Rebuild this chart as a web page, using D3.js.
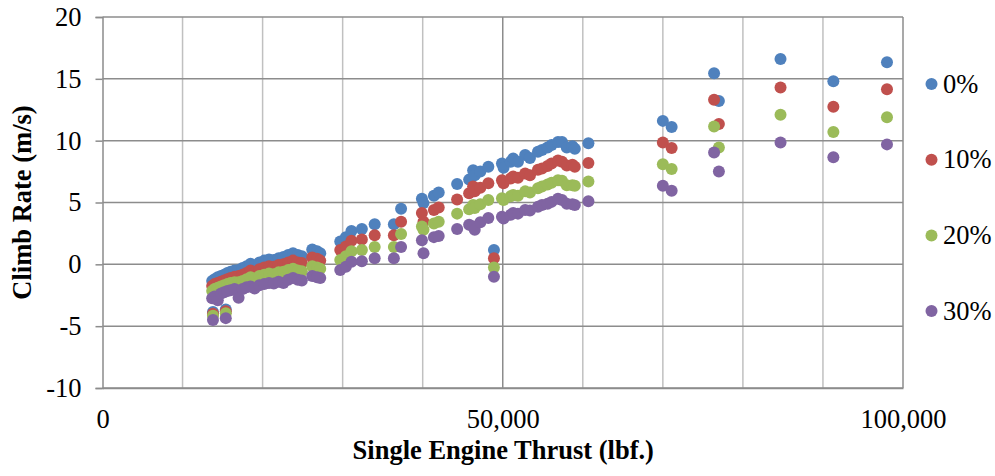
<!DOCTYPE html>
<html>
<head>
<meta charset="utf-8">
<script src="https://cdn.jsdelivr.net/npm/d3@7"></script>
<style>
  html, body { margin: 0; padding: 0; background: #fff; }
  svg { display: block; font-family: "Liberation Serif", "Times New Roman", serif; }
</style>
</head>
<body>
<div id="chart"></div>
<script>
/* ============================================================
   CLIMB RATE vs SINGLE ENGINE THRUST — scatter, 4 series
   ============================================================ */

// thrust per point (lbf.)
var thrust = [
    13700, 13800, 14000, 14400, 14800, 15200, 15400, 15600, 16000, 16500,
    17000, 17500, 18000, 18500, 19000, 19600, 20200, 20800, 21400, 22000,
    22600, 23200, 23800, 24400, 24900, 26200, 26800, 27200,
    29700, 30400, 31100, 32400, 34000, 36400, 37300, 39900, 40100, 41400,
    42000, 44300, 45800, 46300, 46500, 47200, 48200, 48900, 49900, 50100,
    51000, 51300, 51900, 52800, 53400, 54400, 54900, 55600, 56100, 56900,
    57400, 58000, 58700, 59000, 60700,
    70000, 71100, 76400, 77000, 84700, 91300, 98000
];

// climb rate (m/s), one list per series
var climb0 = [
    -1.35, -3.85, -1.2, -1.05, -0.95, -0.85, -3.65, -0.7, -0.6, -0.5,
    -0.45, -0.3, -0.15, 0.05, -0.1, 0.15, 0.3, 0.4, 0.35, 0.5,
    0.6, 0.75, 0.9, 0.75, 0.65, 1.2, 1.05, 0.9,
    1.85, 2.2, 2.7, 2.85, 3.25, 3.25, 4.5, 5.3, 4.95, 5.55,
    5.8, 6.5, 6.85, 7.6, 7.2, 7.5, 7.9, 1.15, 8.15, 7.8,
    8.3, 8.55, 8.3, 8.85, 8.6, 9.1, 9.25, 9.45, 9.65, 9.9,
    9.9, 9.45, 9.55, 9.35, 9.8,
    11.6, 11.1, 15.45, 13.2, 16.6, 14.8, 16.35
];
var climb10 = [
    -1.75, -4.0, -1.6, -1.5, -1.4, -1.3, -3.8, -1.2, -1.1, -1.0,
    -0.95, -0.85, -0.7, -0.5, -0.65, -0.4, -0.25, -0.15, -0.2, -0.05,
    0.0, 0.15, 0.3, 0.15, 0.1, 0.55, 0.45, 0.3,
    1.15, 1.45, 1.9, 2.0, 2.35, 2.35, 3.45, 4.15, 3.45, 4.4,
    4.6, 5.25, 5.75, 6.3, 5.9, 6.2, 6.55, 0.5, 6.8, 6.55,
    6.95, 7.1, 7.0, 7.35, 7.2, 7.65, 7.75, 7.95, 8.15, 8.4,
    8.3, 8.0, 8.05, 7.9, 8.2,
    9.85, 9.4, 13.3, 11.35, 14.3, 12.75, 14.15
];
var climb20 = [
    -2.15, -4.15, -2.0, -1.9, -1.8, -1.7, -3.95, -1.6, -1.5, -1.45,
    -1.45, -1.35, -1.2, -1.05, -1.15, -0.95, -0.85, -0.75, -0.8, -0.65,
    -0.6, -0.45, -0.35, -0.5, -0.55, -0.15, -0.25, -0.35,
    0.35, 0.65, 1.05, 1.15, 1.4, 1.4, 2.45, 3.05, 2.8, 3.3,
    3.45, 4.1, 4.45, 4.8, 4.55, 4.85, 5.2, -0.25, 5.35, 5.2,
    5.5, 5.6, 5.55, 5.9, 5.8, 6.15, 6.3, 6.45, 6.6, 6.8,
    6.75, 6.4, 6.4, 6.35, 6.7,
    8.1, 7.7, 11.15, 9.45, 12.1, 10.7, 11.9
];
var climb30 = [
    -2.75, -4.5, -2.6, -2.9, -2.35, -2.25, -4.35, -2.15, -2.1, -2.0,
    -2.7, -2.0, -1.85, -1.8, -1.95, -1.7, -1.6, -1.5, -1.55, -1.4,
    -1.5, -1.25, -1.1, -1.25, -1.3, -0.95, -1.05, -1.1,
    -0.45, -0.2, 0.2, 0.25, 0.5, 0.5, 1.4, 1.95, 0.9, 2.2,
    2.3, 2.85, 3.2, 3.05, 2.8, 3.4, 3.75, -1.0, 3.85, 3.7,
    4.0, 4.15, 4.1, 4.4, 4.35, 4.65, 4.8, 4.9, 5.05, 5.3,
    5.2, 4.9, 4.85, 4.8, 5.1,
    6.35, 5.95, 9.05, 7.5, 9.85, 8.65, 9.7
];

var seriesNames  = ['0%', '10%', '20%', '30%'];
var seriesColors = ['#4F81BD', '#C0504D', '#9BBB59', '#8064A2'];
var seriesValues = [climb0, climb10, climb20, climb30];

var xTicks      = [0, 50000, 100000];
var xGridTicks  = [10000, 20000, 30000, 40000, 50000, 60000, 70000, 80000, 90000, 100000];
var xMajorGrid  = [50000, 100000];
var yTicks      = [-10, -5, 0, 5, 10, 15, 20];

var W = 995, H = 476;
var PL = 102.5, PR = 903, PT = 17, PB = 388;
var FS = 26.5;

var svg = d3.select('#chart').append('svg')
    .attr('width', W)
    .attr('height', H);

var x = d3.scaleLinear().domain([0, 100000]).range([PL, PR]);
var y = d3.scaleLinear().domain([-10, 20]).range([PB, PT]);

// Grid — vertical minor lines lighter, majors darker
svg.append('g').selectAll('line')
    .data(xGridTicks)
    .enter().append('line')
    .attr('x1', function(d) { return x(d); })
    .attr('x2', function(d) { return x(d); })
    .attr('y1', PT).attr('y2', PB)
    .attr('stroke', function(d) { return xMajorGrid.indexOf(d) >= 0 ? '#8c8c8c' : '#c0c0c0'; })
    .attr('stroke-width', 1.5);

svg.append('g').selectAll('line')
    .data(yTicks)
    .enter().append('line')
    .attr('x1', PL).attr('x2', PR)
    .attr('y1', function(d) { return y(d); })
    .attr('y2', function(d) { return y(d); })
    .attr('stroke', '#8c8c8c')
    .attr('stroke-width', 1.5);

// Axes (plain hyphen for negatives, like the source)
var yAxis = svg.append('g')
    .attr('transform', 'translate(' + PL + ',0)')
    .call(d3.axisLeft(y).tickValues(yTicks).tickSize(7).tickPadding(14)
        .tickFormat(function(d) { return String(d); }));
yAxis.select('.domain').attr('stroke', '#8c8c8c').attr('stroke-width', 1.5);
yAxis.selectAll('.tick line').attr('stroke', '#8c8c8c').attr('stroke-width', 1.5);
yAxis.selectAll('text')
    .style('font-family', '"Liberation Serif", "Times New Roman", serif')
    .style('font-size', FS + 'px')
    .attr('fill', '#000');

var xAxis = svg.append('g')
    .attr('transform', 'translate(0,' + PB + ')')
    .call(d3.axisBottom(x).tickValues(xTicks).tickSize(0).tickPadding(21).tickFormat(d3.format(',')));
xAxis.select('.domain').attr('stroke', '#8c8c8c').attr('stroke-width', 1.5);
xAxis.selectAll('text')
    .style('font-family', '"Liberation Serif", "Times New Roman", serif')
    .style('font-size', FS + 'px')
    .attr('fill', '#000');

// Points — series drawn in order so later ones sit on top
seriesValues.forEach(function(vals, i) {
    svg.append('g').selectAll('circle')
        .data(thrust)
        .enter().append('circle')
        .attr('cx', function(d) { return x(d); })
        .attr('cy', function(d, j) { return y(vals[j]); })
        .attr('r', 6)
        .attr('fill', seriesColors[i]);
});

// Axis titles
svg.append('text')
    .attr('x', (PL + PR) / 2 + 0.5)
    .attr('y', 459)
    .attr('text-anchor', 'middle')
    .attr('font-weight', 'bold')
    .attr('font-size', FS + 'px')
    .text('Single Engine Thrust (lbf.)');

svg.append('text')
    .attr('transform', 'rotate(-90)')
    .attr('x', -202.5)
    .attr('y', 31)
    .attr('text-anchor', 'middle')
    .attr('font-weight', 'bold')
    .attr('font-size', FS + 'px')
    .text('Climb Rate (m/s)');

// Legend
var legend = svg.append('g').selectAll('g')
    .data(seriesNames)
    .enter().append('g')
    .attr('transform', function(d, i) { return 'translate(931.5,' + (84 + i * 75.7) + ')'; });

legend.append('circle')
    .attr('r', 6)
    .attr('fill', function(d, i) { return seriesColors[i]; });

legend.append('text')
    .attr('x', 11.5)
    .attr('y', 8.5)
    .attr('font-size', FS + 'px')
    .text(function(d) { return d; });
</script>
</body>
</html>
